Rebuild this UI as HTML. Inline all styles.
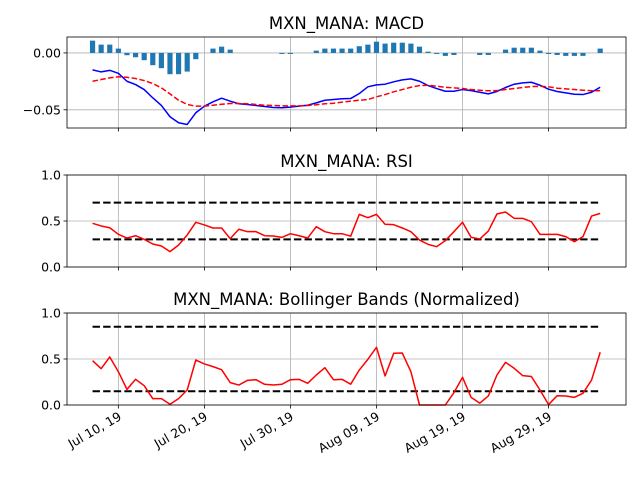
<!DOCTYPE html>
<html><head><meta charset="utf-8"><style>
body{margin:0;background:#fff;}
svg{display:block;font-family:"DejaVu Sans","Liberation Sans",sans-serif;}
</style></head><body>
<svg id="chart" width="640" height="480" viewBox="0 0 640 480" xmlns="http://www.w3.org/2000/svg"></svg>
<script>
const dayLabels = ["Jul 10, 19","Jul 20, 19","Jul 30, 19","Aug 09, 19","Aug 19, 19","Aug 29, 19"];
const tickDays = [3,13,23,33,43,53];
const macd = [-0.0149,-0.0167,-0.0153,-0.0179,-0.0249,-0.0278,-0.0322,-0.0395,-0.0462,-0.0561,-0.0614,-0.0629,-0.0526,-0.0468,-0.0430,-0.0398,-0.0424,-0.0447,-0.0453,-0.0462,-0.0471,-0.0480,-0.0482,-0.0477,-0.0468,-0.0460,-0.0439,-0.0416,-0.0410,-0.0403,-0.0401,-0.0357,-0.0298,-0.0281,-0.0275,-0.0254,-0.0237,-0.0228,-0.0249,-0.0287,-0.0313,-0.0337,-0.0337,-0.0322,-0.0331,-0.0346,-0.0360,-0.0339,-0.0304,-0.0275,-0.0263,-0.0258,-0.0284,-0.0319,-0.0339,-0.0351,-0.0363,-0.0366,-0.0346,-0.0302];
const signal = [-0.0249,-0.0234,-0.0219,-0.0210,-0.0214,-0.0225,-0.0243,-0.0269,-0.0307,-0.0360,-0.0416,-0.0453,-0.0468,-0.0468,-0.0460,-0.0451,-0.0445,-0.0445,-0.0447,-0.0453,-0.0460,-0.0462,-0.0465,-0.0465,-0.0465,-0.0462,-0.0456,-0.0447,-0.0442,-0.0433,-0.0424,-0.0416,-0.0410,-0.0386,-0.0366,-0.0342,-0.0322,-0.0302,-0.0287,-0.0284,-0.0293,-0.0302,-0.0307,-0.0313,-0.0322,-0.0328,-0.0333,-0.0331,-0.0322,-0.0313,-0.0304,-0.0296,-0.0293,-0.0298,-0.0310,-0.0316,-0.0322,-0.0328,-0.0333,-0.0331];
const hist = [0.0108,0.0073,0.0073,0.0038,-0.0020,-0.0038,-0.0064,-0.0108,-0.0134,-0.0187,-0.0187,-0.0164,-0.0055,0,0.0038,0.0055,0.0029,0,0,0,0,0,-0.0009,-0.0009,0,0,0.0020,0.0038,0.0038,0.0038,0.0038,0.0059,0.0073,0.0099,0.0082,0.0090,0.0090,0.0082,0.0055,0.0011,-0.0009,-0.0026,-0.0018,0,0,-0.0018,-0.0018,0,0.0029,0.0046,0.0046,0.0046,0.0020,-0.0009,-0.0018,-0.0026,-0.0026,-0.0026,0,0.0038];
const rsi = [0.475,0.446,0.427,0.355,0.315,0.340,0.301,0.250,0.228,0.167,0.239,0.348,0.486,0.457,0.424,0.424,0.308,0.410,0.384,0.384,0.340,0.337,0.322,0.362,0.340,0.315,0.438,0.384,0.362,0.362,0.335,0.572,0.536,0.572,0.464,0.460,0.424,0.384,0.293,0.246,0.221,0.286,0.384,0.486,0.322,0.304,0.391,0.576,0.598,0.529,0.529,0.493,0.355,0.355,0.355,0.330,0.275,0.330,0.554,0.583];
const bb = [0.482,0.395,0.522,0.362,0.170,0.279,0.210,0.069,0.069,0.008,0.069,0.163,0.489,0.446,0.417,0.384,0.243,0.217,0.268,0.275,0.225,0.217,0.225,0.275,0.279,0.236,0.326,0.406,0.275,0.279,0.226,0.380,0.496,0.627,0.315,0.562,0.565,0.362,0.000,0.000,0.000,0.000,0.134,0.301,0.083,0.020,0.098,0.326,0.464,0.399,0.319,0.310,0.163,0.005,0.101,0.098,0.083,0.127,0.272,0.573];
const rsiLevels = [0.7,0.3];
const bbLevels = [0.85,0.15];

const svg = document.getElementById('chart');
const NS = 'http://www.w3.org/2000/svg';
function mk(tag, attrs, parent){const e=document.createElementNS(NS,tag);for(const k in attrs)e.setAttribute(k,attrs[k]);(parent||svg).appendChild(e);return e;}
const L=67,R=626,DMIN=-2.97,DMAX=62.0;
const xS = d => L + (d-DMIN)/(DMAX-DMIN)*(R-L);

function panel(name, top, bot, ymin, ymax, yticks, ylabels, title, showX){
  const yS = v => bot - (v-ymin)/(ymax-ymin)*(bot-top);
  const g = mk('g',{});
  
  
  tickDays.forEach((d,i)=>{
    const gl = mk('line',{x1:xS(d),x2:xS(d),y1:top,y2:bot,stroke:'#b0b0b0','stroke-width':0.8},g);
    
    
    mk('line',{x1:xS(d),x2:xS(d),y1:bot,y2:bot+3.5,stroke:'#000','stroke-width':0.8},g);
    if(showX){
      const t = mk('text',{x:0,y:0,'font-size':12.5,'text-anchor':'end',transform:`translate(${xS(d)+4},${bot+14}) rotate(-30)`},g);
      t.textContent = dayLabels[i];
      
      
    }
  });
  yticks.forEach((v,i)=>{
    const gl = mk('line',{x1:L,x2:R,y1:yS(v),y2:yS(v),stroke:'#b0b0b0','stroke-width':0.8},g);
    
    
    mk('line',{x1:L-3.5,x2:L,y1:yS(v),y2:yS(v),stroke:'#000','stroke-width':0.8},g);
    const t = mk('text',{x:L-6,y:yS(v)+4.5,'font-size':12.5,'text-anchor':'end'},g);
    t.textContent = ylabels[i];
    
    
  });
  const tt = mk('text',{x:(L+R)/2,y:top-8,'font-size':16.5,'text-anchor':'middle'},g);
  tt.textContent = title;
  
  
  return {g,yS,top,bot};
}
function line(p, data, color, dash, w, nm){
  const pts = data.map((v,i)=>xS(i).toFixed(2)+','+p.yS(v).toFixed(2)).join(' ');
  const el = mk('polyline',{points:pts,fill:'none',stroke:color,'stroke-width':w,'stroke-dasharray':dash||'none','stroke-linejoin':'round'},p.g);
  
  
}
function hline(p, v, nm){
  const el = mk('line',{x1:xS(0),x2:xS(59),y1:p.yS(v),y2:p.yS(v),stroke:'#000','stroke-width':2,'stroke-dasharray':'7.4,3.2'},p.g);
  
  
}
function frame(p, nm){
  const r = mk('rect',{x:L,y:p.top,width:R-L,height:p.bot-p.top,fill:'none',stroke:'#000','stroke-width':0.8},p.g);
  
  
}

// MACD
const p1 = panel('macd',37,128,-0.066,0.014,[0,-0.05],['0.00','−0.05'],'MXN_MANA: MACD',false);
const bw = (xS(1)-xS(0))*0.6;
hist.forEach((v,i)=>{
  if(v===0) return;
  const y0=p1.yS(0), y1=p1.yS(v);
  const b = mk('rect',{x:xS(i)-bw/2,y:Math.min(y0,y1),width:bw,height:Math.abs(y1-y0),fill:'#1f77b4'},p1.g);
  
  
});
line(p1, macd, '#0000ff', null, 1.5, 'macd-line');
line(p1, signal, '#ff0000', '5.5,2.4', 1.5, 'signal-line');
frame(p1,'macd');

// RSI
const p2 = panel('rsi',175,267,0,1,[0,0.5,1],['0.0','0.5','1.0'],'MXN_MANA: RSI',false);
rsiLevels.forEach(v=>hline(p2,v,'rsi-threshold-line'));
line(p2, rsi, '#ff0000', null, 1.5, 'rsi-line');
frame(p2,'rsi');

// BB
const p3 = panel('bollinger',313,405,0,1,[0,0.5,1],['0.0','0.5','1.0'],'MXN_MANA: Bollinger Bands (Normalized)',true);
bbLevels.forEach(v=>hline(p3,v,'bollinger-threshold-line'));
line(p3, bb, '#ff0000', null, 1.5, 'bollinger-line');
frame(p3,'bollinger');
</script>
</body></html>
